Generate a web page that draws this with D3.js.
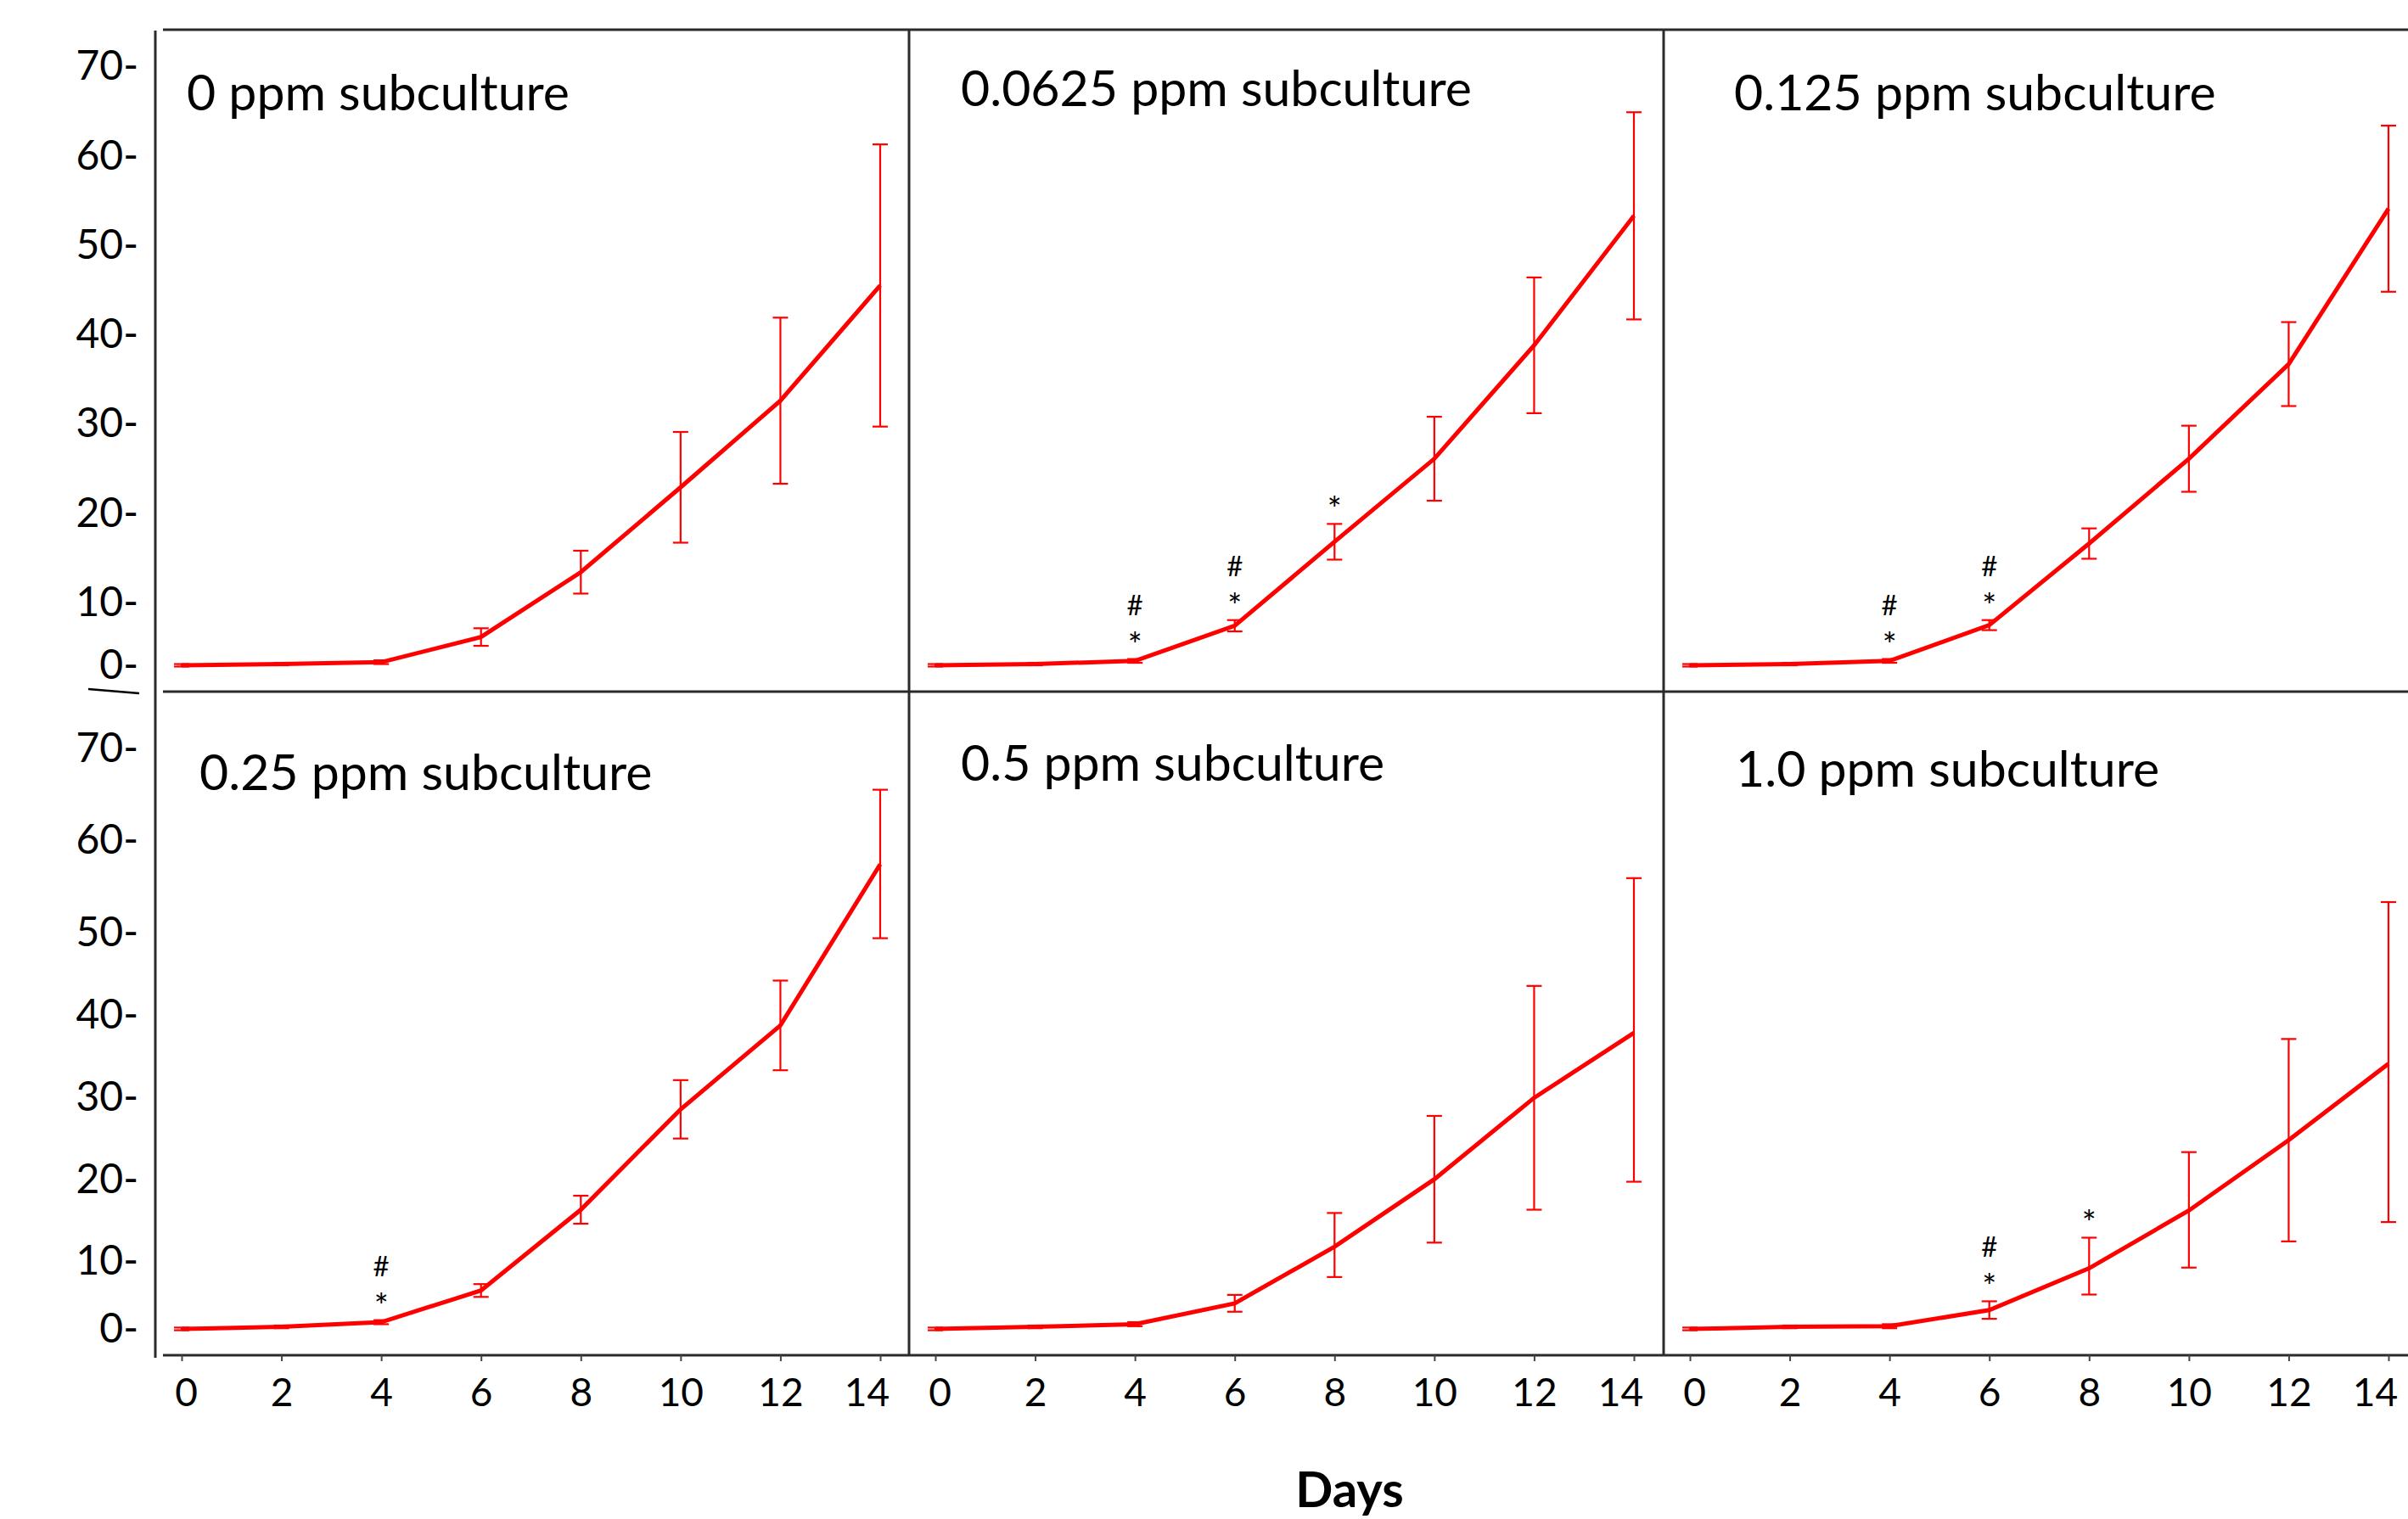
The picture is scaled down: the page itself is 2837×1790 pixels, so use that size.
<!DOCTYPE html>
<html>
<head>
<meta charset="utf-8">
<script src="https://cdn.jsdelivr.net/npm/d3@7"></script>
<style>
  body { margin: 0; background: #fff; }
  svg text { font-family: Lato, "Open Sans", sans-serif; fill: #000; }
</style>
</head>
<body>
<svg id="chart" width="2837" height="1790"></svg>
<script>
// days of culture (x axis)
var days = [0, 2, 4, 6, 8, 10, 12, 14];
var yTicks = [0, 10, 20, 30, 40, 50, 60, 70];
var groups = ["0 ppm subculture", "0.0625 ppm subculture", "0.125 ppm subculture",
              "0.25 ppm subculture", "0.5 ppm subculture", "1.0 ppm subculture"];

// mean values and error bars
var mean0    = [0, 0.2, 0.5, 4.5, 13.4, 22.9, 32.6, 45.5];
var err0     = [0.2, 0.2, 0.3, 1.4, 2.4, 6.2, 9.3, 15.8];
var mean0625 = [0, 0.2, 0.7, 6.3, 16.8, 26.1, 38.8, 53.3];
var err0625  = [0.2, 0.2, 0.3, 0.9, 2.0, 4.7, 7.6, 11.6];
var mean125  = [0, 0.2, 0.7, 6.4, 16.6, 26.1, 36.7, 54.1];
var err125   = [0.2, 0.2, 0.3, 0.8, 1.7, 3.7, 4.7, 9.3];
var mean25   = [0, 0.3, 1.0, 5.7, 16.3, 28.5, 38.7, 57.4];
var err25    = [0.2, 0.2, 0.3, 0.95, 1.7, 3.55, 5.45, 8.1];
var mean5    = [0, 0.3, 0.7, 3.8, 11.8, 20.0, 29.9, 37.8];
var err5     = [0.2, 0.2, 0.3, 1.25, 4.1, 7.7, 13.6, 18.1];
var mean10   = [0, 0.3, 0.4, 2.8, 9.0, 16.2, 24.75, 34.05];
var err10    = [0.2, 0.2, 0.3, 1.3, 3.9, 7.1, 12.3, 19.25];

// significance marks (days with * and #)
var star0625 = [4, 6, 8], hash0625 = [4, 6];
var star125  = [4, 6],    hash125  = [4, 6];
var star25   = [4],       hash25   = [4];
var star10   = [6, 8],    hash10   = [6];

var panels = [
  {name: groups[0], mean: mean0,    err: err0,    star: [],       hash: []},
  {name: groups[1], mean: mean0625, err: err0625, star: star0625, hash: hash0625},
  {name: groups[2], mean: mean125,  err: err125,  star: star125,  hash: hash125},
  {name: groups[3], mean: mean25,   err: err25,   star: star25,   hash: hash25},
  {name: groups[4], mean: mean5,    err: err5,    star: [],       hash: []},
  {name: groups[5], mean: mean10,   err: err10,   star: star10,   hash: hash10}
];

// layout
var svg = d3.select("#chart");
var W = 2837, H = 1790;
var axisX = 183;
var topY = 35, midY = 815, bottomY = 1597;
var colLefts = [183, 1071, 1960];
var frameColor = "#2b2b2b";

// y scales (tick labels in the original are not evenly spaced)
var yRows = [
  d3.scaleLinear().domain([0, 10, 70]).range([784, 710, 78.6]),
  d3.scaleLinear().domain([0, 10, 50, 70]).range([1566, 1486.6, 1098.8, 881.8])
];
// title offsets from the panel's left edge / row top
var titlePos = [[37, 95], [61, 90], [83, 95], [52, 116], [61, 105], [85, 112]];

// frame lines
var frame = svg.append("g").attr("stroke", frameColor).attr("stroke-width", 3);
[topY, midY, bottomY].forEach(function (yy) {
  frame.append("line").attr("x1", 192).attr("x2", W).attr("y1", yy).attr("y2", yy);
});
frame.append("line").attr("x1", axisX).attr("x2", axisX).attr("y1", topY + 1).attr("y2", bottomY + 3);
colLefts.slice(1).forEach(function (xx) {
  frame.append("line").attr("x1", xx).attr("x2", xx).attr("y1", topY).attr("y2", bottomY);
});
// little break mark next to the axis
svg.append("line").attr("x1", 104).attr("y1", 812).attr("x2", 164).attr("y2", 817)
  .attr("stroke", "#000").attr("stroke-width", 2.5);

// y axes
yRows.forEach(function (y) {
  var g = svg.append("g")
    .attr("transform", "translate(" + axisX + ",0)")
    .call(d3.axisLeft(y).tickValues(yTicks).tickSize(0).tickPadding(20)
      .tickFormat(function (d) { return d + "-"; }));
  g.select(".domain").remove();
  g.selectAll("text").style("font-size", "48px").style("font-family", "Lato, sans-serif");
});

panels.forEach(function (p, i) {
  var row = Math.floor(i / 3), col = i % 3;
  var left = colLefts[col];
  var x = d3.scaleLinear().domain([0, 14]).range([left + 31, left + 854]);
  var y = yRows[row];
  var pts = days.map(function (d, k) { return {day: d, mean: p.mean[k], err: p.err[k]}; });

  var g = svg.append("g");

  // title
  g.append("text")
    .attr("x", left + titlePos[i][0])
    .attr("y", (row === 0 ? topY : midY) + titlePos[i][1])
    .style("font-size", "59px")
    .text(p.name);

  // error bars
  var eb = g.append("g").attr("stroke", "#ff0000").attr("stroke-width", 2.2);
  pts.forEach(function (d) {
    var y1 = y(d.mean + d.err), y2 = y(d.mean - d.err), cx = x(d.day);
    eb.append("line").attr("x1", cx).attr("x2", cx).attr("y1", y1).attr("y2", y2);
    eb.append("line").attr("x1", cx - 9).attr("x2", cx + 9).attr("y1", y1).attr("y2", y1);
    eb.append("line").attr("x1", cx - 9).attr("x2", cx + 9).attr("y1", y2).attr("y2", y2);
  });

  // mean line
  g.append("path")
    .datum(pts)
    .attr("fill", "none")
    .attr("stroke", "#ff0000")
    .attr("stroke-width", 5)
    .attr("d", d3.line().x(function (d) { return x(d.day); }).y(function (d) { return y(d.mean); }));

  // significance marks
  p.star.forEach(function (day) {
    var k = days.indexOf(day);
    var top = y(p.mean[k] + p.err[k]);
    g.append("text").attr("x", x(day)).attr("y", top - 2)
      .attr("text-anchor", "middle").style("font-size", "40px").text("*");
  });
  p.hash.forEach(function (day) {
    var k = days.indexOf(day);
    var top = y(p.mean[k] + p.err[k]);
    g.append("text").attr("x", x(day)).attr("y", top - 52)
      .attr("text-anchor", "middle").style("font-size", "33px").text("#");
  });

  // x axis on the bottom row
  if (row === 1) {
    var ax = svg.append("g")
      .attr("transform", "translate(0," + bottomY + ")")
      .call(d3.axisBottom(x).tickValues(days).tickSize(7).tickPadding(20));
    ax.select(".domain").remove();
    ax.selectAll("line").attr("stroke", "#444").attr("stroke-width", 2);
    ax.selectAll("text").style("font-size", "46px").style("font-family", "Lato, sans-serif")
      .attr("dx", function (d) { return d === 14 ? -16 : (d === 0 ? 5 : 0); });
  }
});

// x axis title
svg.append("text")
  .attr("x", 1590).attr("y", 1776)
  .attr("text-anchor", "middle")
  .style("font-size", "58px").style("font-weight", "bold")
  .text("Days");
</script>
</body>
</html>
